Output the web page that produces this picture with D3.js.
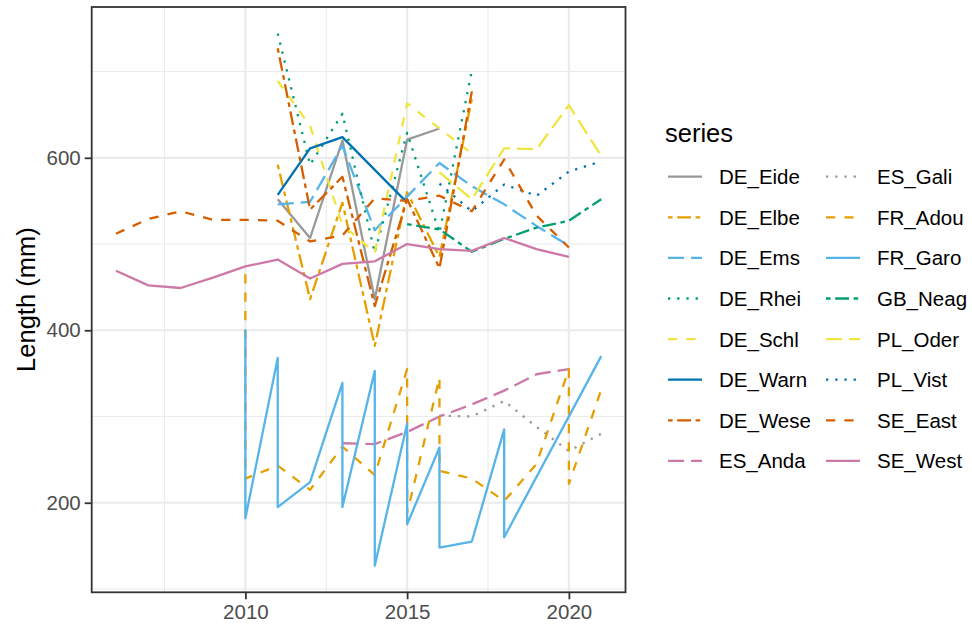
<!DOCTYPE html>
<html>
<head>
<meta charset="utf-8">
<script src="https://cdn.jsdelivr.net/npm/d3@7"></script>
<style>
  body { margin: 0; background: #ffffff; }
  svg text { font-family: "Liberation Sans", Arial, Helvetica, sans-serif; }
</style>
</head>
<body>
<div id="chart"></div>
<script>
// Mean length (mm) per year for each series; repeated years hold several values.
const seriesNames = ["DE_Eide", "DE_Elbe", "DE_Ems", "DE_Rhei", "DE_Schl", "DE_Warn", "DE_Wese", "ES_Anda",
                     "ES_Gali", "FR_Adou", "FR_Garo", "GB_Neag", "PL_Oder", "PL_Vist", "SE_East", "SE_West"];

const DE_Eide = [[2011, 552], [2012, 507], [2013, 620], [2014, 436], [2015, 621], [2016, 634]];
const DE_Elbe = [[2011, 592], [2012, 436], [2013, 548], [2014, 382], [2015, 560], [2016, 485], [2017, 668]];
const DE_Ems  = [[2011, 546], [2012, 549], [2013, 614], [2014, 516], [2015, 555], [2016, 594], [2017, 567], [2018, 546], [2019, 521], [2020, 498]];
const DE_Rhei = [[2011, 744], [2012, 592], [2013, 651], [2014, 490], [2015, 629], [2016, 513], [2017, 701]];
const DE_Schl = [[2011, 689], [2012, 637], [2013, 522], [2014, 490], [2015, 663], [2016, 634], [2017, 605]];
const DE_Warn = [[2011, 557], [2012, 611], [2013, 624], [2015, 548]];
const DE_Wese = [[2011, 727], [2012, 540], [2013, 578], [2014, 428], [2015, 552], [2016, 472], [2017, 677]];
const ES_Anda = [[2013, 269], [2014, 268], [2015, 282], [2016, 300], [2017, 314], [2018, 330], [2019, 349], [2020, 355]];
const ES_Gali = [[2016, 301], [2017, 300], [2018, 318], [2019, 288], [2020, 260], [2021, 280]];
const FR_Adou = [[2010, 465], [2010, 228], [2011, 243], [2012, 215], [2013, 265], [2014, 232], [2015, 355], [2015, 188],
                 [2016, 345], [2016, 237], [2017, 228], [2018, 202], [2019, 245], [2020, 355], [2020, 222], [2021, 331]];
const FR_Garo = [[2010, 401], [2010, 182], [2011, 368], [2011, 195], [2012, 224], [2013, 339], [2013, 195], [2014, 353],
                 [2014, 127], [2015, 292], [2015, 175], [2016, 264], [2016, 148], [2017, 155], [2018, 285], [2018, 160], [2021, 370]];
const GB_Neag = [[2015, 523], [2016, 517], [2017, 491], [2018, 506], [2019, 519], [2020, 527], [2021, 552]];
const PL_Oder = [[2016, 583], [2017, 552], [2018, 611], [2019, 610], [2020, 661], [2021, 602]];
const PL_Vist = [[2016, 570], [2017, 538], [2018, 569], [2019, 556], [2020, 584], [2021, 596]];
const SE_East = [[2006, 512], [2007, 529], [2008, 538], [2009, 528], [2010, 528], [2011, 527], [2012, 503], [2013, 510],
                 [2014, 553], [2015, 550], [2016, 556], [2017, 538], [2018, 598], [2019, 533], [2020, 496]];
const SE_West = [[2006, 469], [2007, 452], [2008, 449], [2009, 461], [2010, 474], [2011, 482], [2012, 460], [2013, 477],
                 [2014, 480], [2015, 500], [2016, 494], [2017, 492], [2018, 507], [2019, 494], [2020, 485]];

const xTickValues = [2010, 2015, 2020];
const xMinorValues = [2007.5, 2012.5, 2017.5];
const yTickValues = [200, 400, 600];
const yMinorValues = [100, 300, 500, 700];

const palette = ["#999999", "#E69F00", "#56B4E9", "#009E73", "#F0E442", "#0072B2", "#D55E00", "#CC79A7"];
const lineTypes = ["solid", "twodash", "longdash", "dotted", "dashed"];

const seriesValues = [DE_Eide, DE_Elbe, DE_Ems, DE_Rhei, DE_Schl, DE_Warn, DE_Wese, ES_Anda,
                      ES_Gali, FR_Adou, FR_Garo, GB_Neag, PL_Oder, PL_Vist, SE_East, SE_West];

// ---- layout ----
const W = 972, H = 630;
const panel = { left: 91.7, right: 625.5, top: 7, bottom: 592.3 };
const lineW = 2.3;                 // data line width (px)
const unit = 2.3;                  // dash unit, R lty hex digits scale with lwd
const dashFor = {
  solid: null,
  dashed: [4, 4],
  dotted: [1, 3],
  longdash: [7, 3],
  twodash: [2, 2, 6, 2]
};
const dashArray = t => dashFor[t] ? dashFor[t].map(v => v * unit).join(",") : null;

const series = seriesNames.map((name, i) => ({
  name,
  colour: palette[i % palette.length],
  type: lineTypes[i % lineTypes.length],
  points: seriesValues[i].slice().sort((a, b) => a[0] - b[0])   // stable: ties keep order
}));

const allPts = series.flatMap(s => s.points);
const expand = (ext) => { const d = (ext[1] - ext[0]) * 0.05; return [ext[0] - d, ext[1] + d]; };

const x = d3.scaleLinear().domain(expand(d3.extent(allPts, d => d[0]))).range([panel.left, panel.right]);
const y = d3.scaleLinear().domain(expand(d3.extent(allPts, d => d[1]))).range([panel.bottom, panel.top]);

const svg = d3.select("#chart").append("svg").attr("width", W).attr("height", H);
svg.append("rect").attr("width", W).attr("height", H).attr("fill", "#ffffff");

// panel background and grid
const grid = svg.append("g");
grid.selectAll("line.ymin").data(yMinorValues).join("line")
  .attr("x1", panel.left).attr("x2", panel.right)
  .attr("y1", d => y(d)).attr("y2", d => y(d))
  .attr("stroke", "#EBEBEB").attr("stroke-width", 1.1);
grid.selectAll("line.xmin").data(xMinorValues).join("line")
  .attr("y1", panel.top).attr("y2", panel.bottom)
  .attr("x1", d => x(d)).attr("x2", d => x(d))
  .attr("stroke", "#EBEBEB").attr("stroke-width", 1.1);
grid.selectAll("line.ymaj").data(yTickValues).join("line")
  .attr("x1", panel.left).attr("x2", panel.right)
  .attr("y1", d => y(d)).attr("y2", d => y(d))
  .attr("stroke", "#EBEBEB").attr("stroke-width", 2.2);
grid.selectAll("line.xmaj").data(xTickValues).join("line")
  .attr("y1", panel.top).attr("y2", panel.bottom)
  .attr("x1", d => x(d)).attr("x2", d => x(d))
  .attr("stroke", "#EBEBEB").attr("stroke-width", 2.2);

// clip the series to the panel
svg.append("clipPath").attr("id", "panelClip").append("rect")
  .attr("x", panel.left).attr("y", panel.top)
  .attr("width", panel.right - panel.left).attr("height", panel.bottom - panel.top);

const line = d3.line().x(d => x(d[0])).y(d => y(d[1]));
svg.append("g").attr("clip-path", "url(#panelClip)")
  .selectAll("path").data(series).join("path")
  .attr("d", s => line(s.points))
  .attr("fill", "none")
  .attr("stroke", s => s.colour)
  .attr("stroke-width", lineW)
  .attr("stroke-linejoin", "round")
  .attr("stroke-linecap", "butt")
  .attr("stroke-dasharray", s => dashArray(s.type));

// panel border
svg.append("rect")
  .attr("x", panel.left).attr("y", panel.top)
  .attr("width", panel.right - panel.left).attr("height", panel.bottom - panel.top)
  .attr("fill", "none").attr("stroke", "#333333").attr("stroke-width", 1.8);

// axes
const tickLen = 7;
const xAxis = d3.axisBottom(x).tickValues(xTickValues).tickFormat(d3.format("d")).tickSize(tickLen).tickPadding(5);
const yAxis = d3.axisLeft(y).tickValues(yTickValues).tickFormat(d3.format("d")).tickSize(tickLen).tickPadding(4);

const gx = svg.append("g").attr("transform", `translate(0,${panel.bottom})`).call(xAxis);
const gy = svg.append("g").attr("transform", `translate(${panel.left},0)`).call(yAxis);
[gx, gy].forEach(g => {
  g.select(".domain").remove();
  g.selectAll(".tick line").attr("stroke", "#333333").attr("stroke-width", 1.8);
  g.selectAll(".tick text").attr("fill", "#4D4D4D").style("font-size", "20.5px");
});

// y axis title
svg.append("text")
  .attr("transform", `translate(35,${(panel.top + panel.bottom) / 2}) rotate(-90)`)
  .attr("text-anchor", "middle")
  .attr("fill", "#000000")
  .style("font-size", "25.5px")
  .text("Length (mm)");

// legend
const legend = svg.append("g");
legend.append("text").attr("x", 665).attr("y", 142)
  .style("font-size", "25.5px").attr("fill", "#000000").text("series");

const rowsPerCol = 8, rowStep = 40.6, firstRow = 176.7;
const colKeyX = [668, 826], colLabelX = [719, 877], keyW = 34;
const items = legend.selectAll("g.item").data(series).join("g")
  .attr("transform", (s, i) => {
    const c = Math.floor(i / rowsPerCol), r = i % rowsPerCol;
    return `translate(${colKeyX[c]},${firstRow + r * rowStep})`;
  });
items.append("line")
  .attr("x1", 0).attr("x2", keyW).attr("y1", 0).attr("y2", 0)
  .attr("stroke", s => s.colour).attr("stroke-width", lineW)
  .attr("stroke-dasharray", s => dashArray(s.type));
items.append("text")
  .attr("x", (s, i) => colLabelX[Math.floor(i / rowsPerCol)] - colKeyX[Math.floor(i / rowsPerCol)])
  .attr("y", 7.5)
  .style("font-size", "20.5px").attr("fill", "#000000")
  .text(s => s.name);
</script>
</body>
</html>
